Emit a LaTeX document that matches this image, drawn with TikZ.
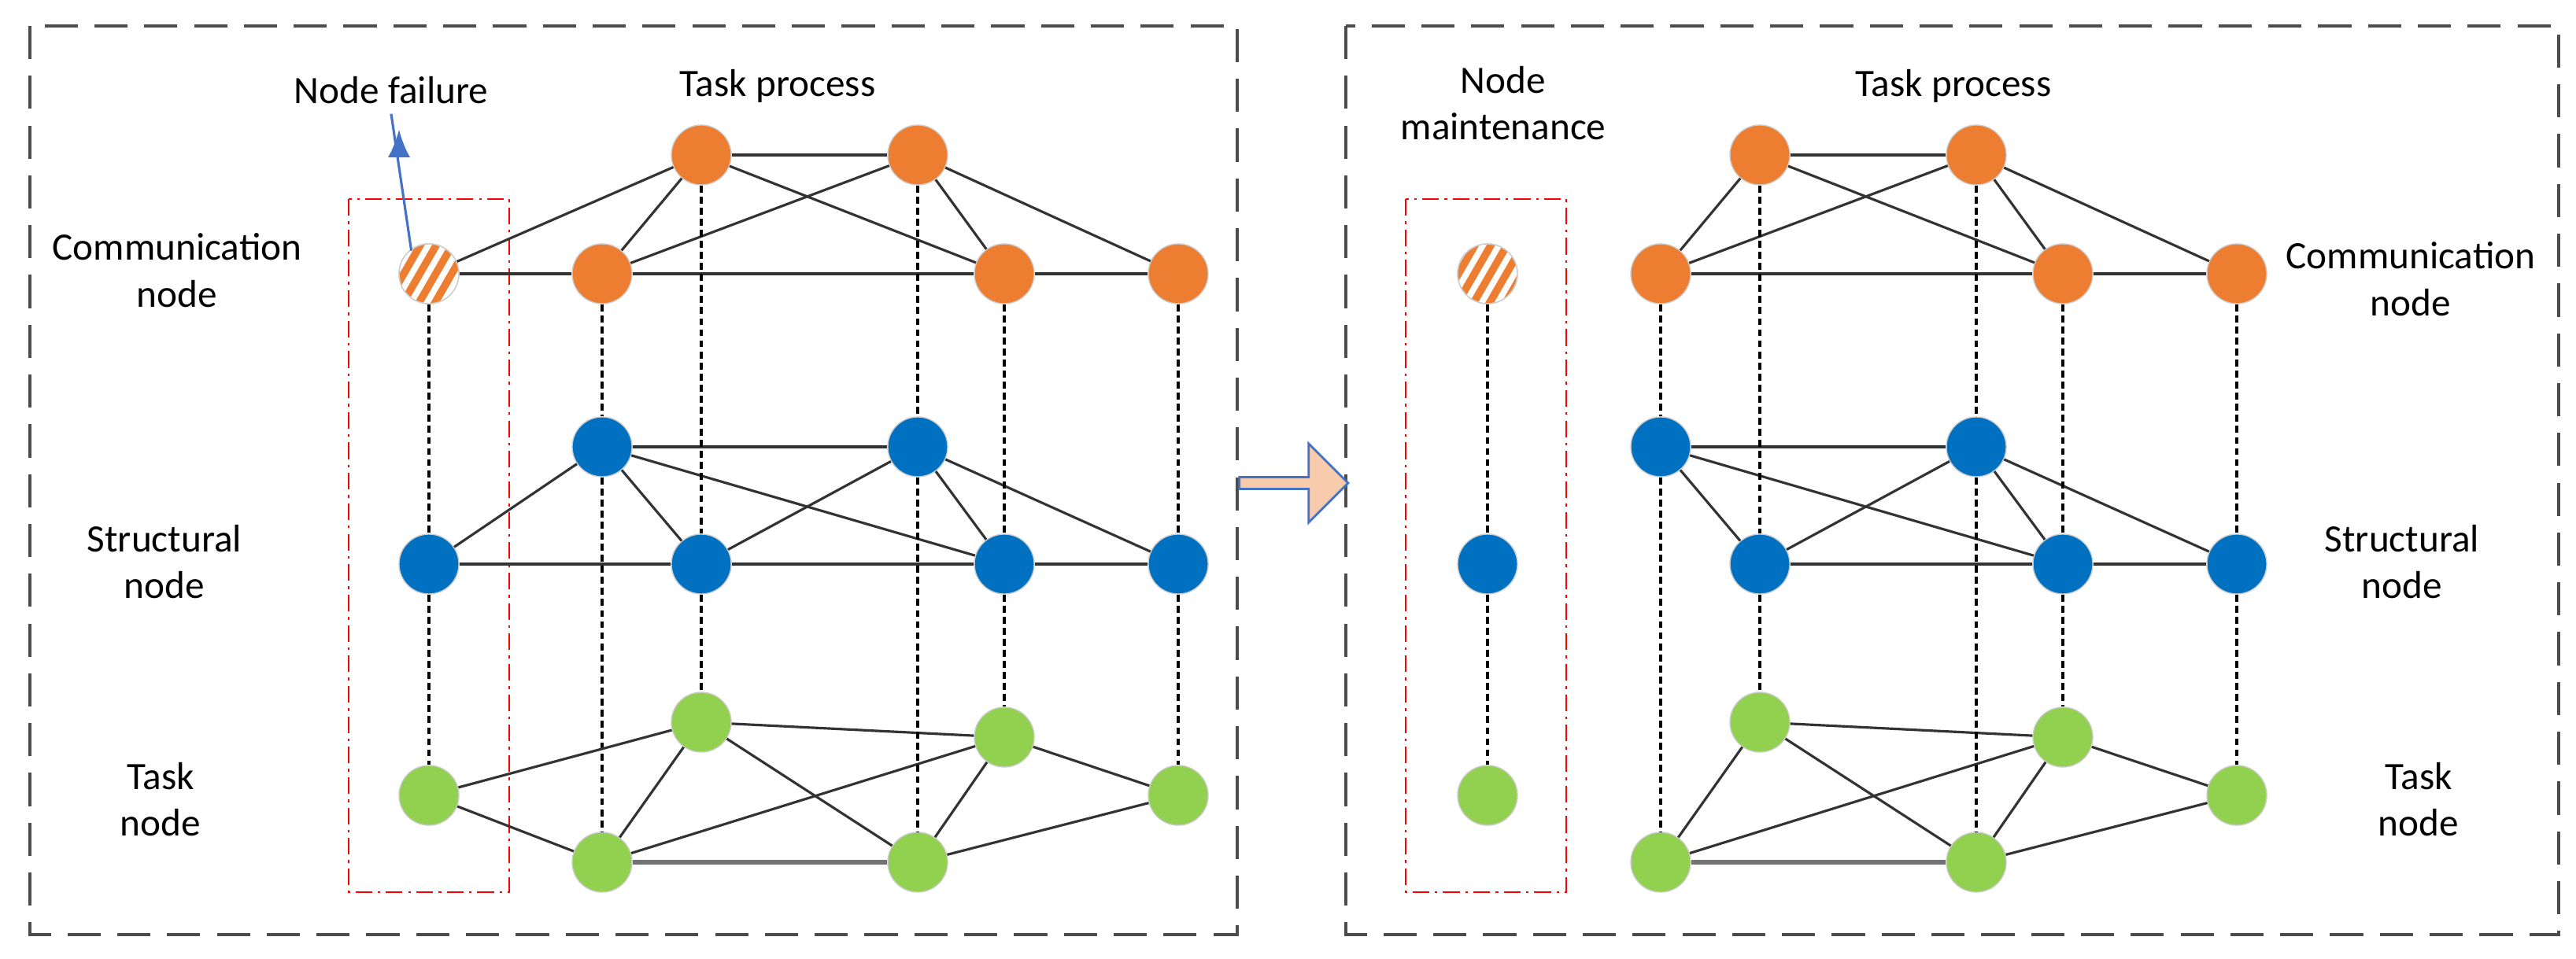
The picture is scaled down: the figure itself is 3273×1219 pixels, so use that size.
\documentclass[tikz,border=0pt]{standalone}
\usepackage{fontspec}
\setmainfont{Carlito}
\usetikzlibrary{shapes.arrows,patterns.meta,arrows.meta}
\definecolor{comm}{HTML}{ED7D31}
\definecolor{struc}{HTML}{0070C0}
\definecolor{task}{HTML}{92D050}
\definecolor{arrowfill}{HTML}{F8CBAD}
\definecolor{arrowline}{HTML}{4472C4}
\tikzset{
  net/.style={circle,draw=black!20,line width=0.4pt,minimum size=0.76cm,inner sep=0pt},
  cn/.style={net,fill=comm},
  sn/.style={net,fill=struc},
  tn/.style={net,fill=task},
  link/.style={draw=black!80,line width=0.9pt},
  vlink/.style={draw=black,line width=0.9pt,densely dashed,dash pattern=on 2.5pt off 1.5pt},
  panel/.style={draw=black!70,line width=1.1pt,dash pattern=on 12pt off 6pt},
  zone/.style={draw=red,line width=0.8pt,dash pattern=on 6pt off 2pt on 1pt off 2pt},
  lbl/.style={font=\fontsize{14}{17}\selectfont,align=center}
}
\begin{document}
\begin{tikzpicture}[x=0.01cm,y=-0.01cm]
  \useasboundingbox (0,0) rectangle (3273,1219);

  % frames
  \draw[panel] (38,33) rectangle (1572,1188);
  \draw[panel] (1710,33) rectangle (3251,1188);
  \draw[zone] (443,253) rectangle (647,1134);
  \draw[zone] (1786,253) rectangle (1990,1134);

  % the two networks
  \foreach \p/\dx in {L/0,R/1345} {
    \begin{scope}[xshift=\dx*0.01cm]
      \node[cn] (\p tC) at (891,197) {};
      \node[cn] (\p tD) at (1166,197) {};
      \node[cn] (\p cB) at (765,348) {};
      \node[cn] (\p cE) at (1276,348) {};
      \node[cn] (\p cF) at (1497,348) {};
      \node[sn] (\p sB) at (765,568) {};
      \node[sn] (\p sD) at (1166,568) {};
      \node[sn] (\p sC) at (891,717) {};
      \node[sn] (\p sE) at (1276,717) {};
      \node[sn] (\p sF) at (1497,717) {};
      \node[tn] (\p kC) at (891,918) {};
      \node[tn] (\p kE) at (1276,937) {};
      \node[tn] (\p kF) at (1497,1011) {};
      \node[tn] (\p kB) at (765,1096) {};
      \node[tn] (\p kD) at (1166,1096) {};
      \node[cn] (\p cA) at (545,348) {};
      \node[sn] (\p sA) at (545,717) {};
      \node[tn] (\p kA) at (545,1011) {};
    \end{scope}
    \begin{scope}[on background layer/.style={}]
      \foreach \a/\b in {tC/tD,tC/cB,tC/cE,tD/cB,tD/cE,tD/cF,cB/cE,cE/cF,
                         sB/sD,sB/sC,sB/sE,sD/sC,sD/sE,sD/sF,sC/sE,sE/sF,
                         kC/kB,kC/kD,kC/kE,kB/kE,kD/kE,kD/kF,kE/kF}
        \draw[link] (\p\a) -- (\p\b);
      \draw[link,draw=black!55,line width=1.6pt] (\p kB) -- (\p kD);
      \foreach \a/\b in {cB/sB,sB/kB,tC/sC,sC/kC,tD/sD,sD/kD,cE/sE,sE/kE,cF/sF,sF/kF,
                         cA/sA,sA/kA}
        \draw[vlink] (\p\a) -- (\p\b);
    \end{scope}
  }
  % links of the failed node column (left only)
  \foreach \a/\b in {cA/tC,cA/cB,sA/sB,sA/sC,kA/kC,kA/kB}
    \draw[link] (L\a) -- (L\b);

  % failed / maintained nodes drawn hatched
  \foreach \p in {L,R} {
    \path[pattern={Lines[angle=60,distance=5pt,line width=2.2pt]},pattern color=white]
      (\p cA) circle (0.38cm);
    \draw[black!20,line width=0.4pt] (\p cA) circle (0.38cm);
  }

  % labels
  \node[lbl] (fail) at (497,115) {Node failure};
  \draw[arrowline,line width=0.9pt,-{Latex[length=10pt,width=8pt]}] (LcA.north west) ++(5,-2) coordinate (fs) -- (fail.south) ++(10,20) coordinate (fe);
  \node[lbl] (procL) at (988,109) {Task process};
  \node[lbl] (commL) at (225,344) {Communication\\node};
  \node[lbl] (strucL) at (209,714) {Structural\\node};
  \node[lbl] (taskL) at (204,1016) {Task\\node};

  \node[lbl] (maint) at (1910,131) {Node\\maintenance};
  \node[lbl] (procR) at (2482,109) {Task process};
  \node[lbl] (commR) at (3063,355) {Communication\\node};
  \node[lbl] (strucR) at (3052,714) {Structural\\node};
  \node[lbl] (taskR) at (3073,1016) {Task\\node};

  % transition arrow
  \node[single arrow,draw=arrowline,fill=arrowfill,line width=0.8pt,
        minimum height=1.38cm,minimum width=1.0cm,single arrow head extend=0.08cm,
        inner sep=0pt] (step) at (1640,614) {};
\end{tikzpicture}
\end{document}
